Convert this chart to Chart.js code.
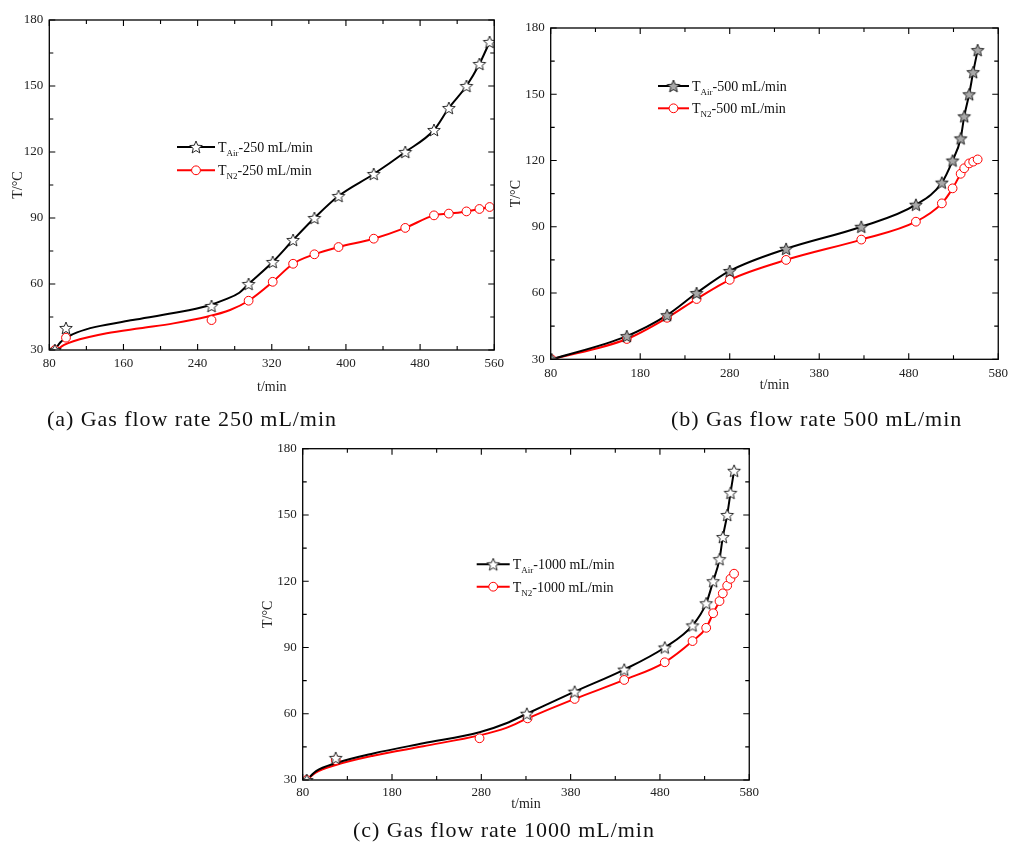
<!DOCTYPE html>
<html>
<head>
<meta charset="utf-8">
<script src="https://cdn.jsdelivr.net/npm/chart.js@4.4.0/dist/chart.umd.min.js"></script>
<style>
  body { margin: 0; background: #fff; width: 1009px; height: 844px; position: relative; overflow: hidden;
         font-family: "Liberation Serif", "Times New Roman", serif; }
  .box { position: absolute; }
  .cap { position: absolute; font-size: 22px; letter-spacing: 0.95px; color: #111; white-space: nowrap; line-height: 24px; }
</style>
</head>
<body>
<div class="box" style="left:0;top:0;width:510px;height:400px"><canvas id="chartA"></canvas></div>
<div class="box" style="left:505px;top:0;width:509px;height:400px"><canvas id="chartB"></canvas></div>
<div class="box" style="left:250px;top:430px;width:514px;height:390px"><canvas id="chartC"></canvas></div>
<div class="cap" style="left:47px;top:407px">(a) Gas flow rate 250 mL/min</div>
<div class="cap" style="left:671px;top:407px">(b) Gas flow rate 500 mL/min</div>
<div class="cap" style="left:353px;top:818px">(c) Gas flow rate 1000 mL/min</div>
<script>
// ---- shared axis ticks ----
const yTicks = [30, 60, 90, 120, 150, 180];
const xTicksA = [80, 160, 240, 320, 400, 480, 560];
const xTicksBC = [80, 180, 280, 380, 480, 580];

// ---- (a) 250 mL/min : measured points ----
const tA   = [86, 98, 255, 295, 321, 343, 366, 392, 430, 464, 495, 511, 530, 544, 555];
const airA = [30, 40, 50, 60, 70, 80, 90, 100, 110, 120, 130, 140, 150, 160, 170];
const n2A  = [30, 35.6, 43.6, 52.4, 61, 69.2, 73.5, 76.8, 80.6, 85.5, 91.2, 92, 93, 94.1, 95];
// (a) fitted curves
const fitTAirA = [86, 92, 100, 110, 130, 170, 214, 250, 270, 285, 295, 321, 343, 366, 392, 430, 464, 495, 511, 530, 544, 555];
const fitAirA  = [30, 33.5, 36, 38, 40.5, 43.6, 46.8, 50, 53, 56, 60, 70, 80, 90, 100, 110, 120, 130, 140, 150, 160, 170];
const fitTN2A  = [88, 96, 106, 142, 178, 214, 250, 275, 295, 321, 343, 366, 392, 430, 464, 495, 511, 530, 544, 555];
const fitN2A   = [30, 32.3, 34, 37.6, 39.9, 42.1, 45.1, 48.2, 52.4, 61, 69.2, 73.5, 76.8, 80.6, 85.5, 91.2, 92, 93, 94.1, 95];

// ---- (b) 500 mL/min ----
const tB   = [81, 165, 210, 243, 280, 343, 427, 488, 517, 529, 538, 542, 547.5, 552, 557];
const airB = [30, 40.5, 50, 60, 70, 80, 90, 100, 110, 120, 130, 140, 150, 160, 170];
const n2B  = [30, 39.2, 48.8, 57.3, 66, 75, 84.2, 92.3, 100.6, 107.4, 114, 116.5, 118.7, 119.5, 120.5];

// ---- (c) 1000 mL/min ----
const tAirC = [84.5, 117, 331, 384.5, 440, 485.4, 516.5, 531.8, 539.6, 546.7, 550.4, 555.3, 559, 563];
const airC  = [30, 40, 60, 70, 80, 90, 100, 110, 120, 130, 140, 150, 160, 170];
const tN2C  = [84.5, 117, 278, 331.8, 384.5, 440, 485.4, 516.5, 531.8, 539.6, 546.7, 550.4, 555.3, 559, 563];
const n2C   = [30, 39, 48.9, 57.9, 66.7, 75.3, 83.3, 92.9, 98.9, 105.5, 111, 114.5, 118, 121.1, 123.4];
// (c) fitted curves
const fitTAirC = [84.5, 95, 117, 159, 215, 278, 308, 331, 384.5, 440, 485.4, 516.5, 531.8, 539.6, 546.7, 550.4, 555.3, 559, 563];
const fitAirC  = [30, 34, 37.6, 42, 46.6, 51.6, 55.7, 60, 70, 80, 90, 100, 110, 120, 130, 140, 150, 160, 170];
const fitTN2C  = [84.5, 95, 117, 159, 215, 278, 308, 331.8, 384.5, 440, 485.4, 516.5, 531.8, 539.6, 546.7, 550.4, 555.3, 559, 563];
const fitN2C   = [30, 33.5, 36.8, 41, 45.3, 50.2, 53.6, 57.9, 66.7, 75.3, 83.3, 92.9, 98.9, 105.5, 111, 114.5, 118, 121.1, 123.4];

const FONT = 'Liberation Serif';
const pts = (xs, ys) => xs.map((x, i) => ({ x, y: ys[i] }));

// five-point star marker
function starImage(fill) {
    const c = document.createElement('canvas');
    c.width = 16; c.height = 16;
    const g = c.getContext('2d');
    g.beginPath();
    for (let i = 0; i < 10; i++) {
        const r = i % 2 ? 2.9 : 6.6;
        const a = -Math.PI / 2 + i * Math.PI / 5;
        g.lineTo(8 + r * Math.cos(a), 8.6 + r * Math.sin(a));
    }
    g.closePath();
    g.fillStyle = fill; g.fill();
    g.strokeStyle = '#111'; g.lineWidth = 0.9; g.stroke();
    return c;
}
const starWhite = starImage('#fff');
const starGrey = starImage('#a8a8a8');

// frame around the plot + inward major/minor ticks on all four sides
const frameTicks = {
    id: 'frameTicks',
    afterDraw(chart) {
        const { ctx, chartArea: a, scales: { x, y } } = chart;
        ctx.save();
        ctx.strokeStyle = '#000';
        ctx.lineWidth = 1.3;
        ctx.strokeRect(a.left, a.top, a.right - a.left, a.bottom - a.top);
        const xs = x.ticks.map(t => t.value), ys = y.ticks.map(t => t.value);
        const mids = v => v.slice(1).map((t, i) => (t + v[i]) / 2);
        ctx.lineWidth = 1.1;
        ctx.beginPath();
        [[xs, 6], [mids(xs), 4]].forEach(([vals, len]) => vals.forEach(v => {
            const px = x.getPixelForValue(v);
            ctx.moveTo(px, a.bottom); ctx.lineTo(px, a.bottom - len);
            ctx.moveTo(px, a.top); ctx.lineTo(px, a.top + len);
        }));
        [[ys, 6], [mids(ys), 4]].forEach(([vals, len]) => vals.forEach(v => {
            const py = y.getPixelForValue(v);
            ctx.moveTo(a.left, py); ctx.lineTo(a.left + len, py);
            ctx.moveTo(a.right, py); ctx.lineTo(a.right - len, py);
        }));
        ctx.stroke();
        ctx.restore();
    }
};

// legend: line + marker + "T" with subscript
const seriesKey = {
    id: 'seriesKey',
    afterDraw(chart, args, opts) {
        const { ctx } = chart;
        ctx.save();
        opts.rows.forEach((r, i) => {
            const y = opts.y + i * opts.gap;
            ctx.strokeStyle = r.color; ctx.lineWidth = 2;
            ctx.beginPath(); ctx.moveTo(opts.x, y); ctx.lineTo(opts.x + opts.len, y); ctx.stroke();
            const cx = opts.x + opts.len / 2;
            if (r.img) {
                ctx.drawImage(r.img, cx - r.img.width / 2, y - r.img.height / 2);
            } else {
                ctx.fillStyle = '#fff'; ctx.strokeStyle = '#ff0000'; ctx.lineWidth = 1;
                ctx.beginPath(); ctx.arc(cx, y, 4.4, 0, Math.PI * 2); ctx.fill(); ctx.stroke();
            }
            ctx.fillStyle = '#111';
            ctx.textBaseline = 'alphabetic';
            let tx = opts.x + opts.len + 3;
            const base = y + 5;
            ctx.font = '14px "' + FONT + '"';
            ctx.fillText('T', tx, base); tx += ctx.measureText('T').width;
            ctx.font = '9px "' + FONT + '"';
            ctx.fillText(r.sub, tx, base + 4); tx += ctx.measureText(r.sub).width;
            ctx.font = '14px "' + FONT + '"';
            ctx.fillText(r.rest, tx, base);
        });
        ctx.restore();
    }
};

function makeChart(id, xTicks, datasets, key, L) {
    return new Chart(document.getElementById(id), {
        type: 'scatter',
        data: { datasets },
        plugins: [frameTicks, seriesKey],
        options: {
            responsive: true,
            maintainAspectRatio: false,
            animation: false,
            layout: { padding: L.pad },
            plugins: { legend: { display: false }, tooltip: { enabled: false }, seriesKey: key },
            scales: {
                x: {
                    type: 'linear', min: xTicks[0], max: xTicks[xTicks.length - 1],
                    afterBuildTicks: s => { s.ticks = xTicks.map(v => ({ value: v })); },
                    afterFit: s => { s.height = L.xh; },
                    grid: { display: false, drawTicks: false },
                    border: { display: false },
                    ticks: { color: '#222', font: { family: FONT, size: 13 }, padding: L.xpad, maxRotation: 0, autoSkip: false },
                    title: { display: true, text: 't/min', color: '#222', font: { family: FONT, size: 14 }, padding: 0 }
                },
                y: {
                    type: 'linear', min: 30, max: 180,
                    afterBuildTicks: s => { s.ticks = yTicks.map(v => ({ value: v })); },
                    afterFit: s => { s.width = L.yw; },
                    grid: { display: false, drawTicks: false },
                    border: { display: false },
                    ticks: { color: '#222', font: { family: FONT, size: 13 }, padding: 6, autoSkip: false },
                    title: { display: true, text: 'T/°C', color: '#222', font: { family: FONT, size: 14 }, padding: 0 }
                }
            }
        }
    });
}

const curve = (data, color) => ({ data, showLine: true, borderColor: color, borderWidth: 2, pointRadius: 0, cubicInterpolationMode: 'monotone' });
const stars = (data, img) => ({ data, pointStyle: img, pointRadius: 6, borderColor: '#000' });
const rings = data => ({ data, pointStyle: 'circle', pointRadius: 4.4, borderWidth: 1, borderColor: '#ff0000', backgroundColor: '#fff' });

makeChart('chartA', xTicksA, [
    stars(pts(tA, airA), starWhite),
    rings(pts(tA, n2A)),
    curve(pts(fitTAirA, fitAirA), '#000'),
    curve(pts(fitTN2A, fitN2A), '#ff0000')
], { x: 177, y: 147, gap: 23.3, len: 38, rows: [
    { color: '#000', img: starWhite, sub: 'Air', rest: '-250 mL/min' },
    { color: '#ff0000', sub: 'N2', rest: '-250 mL/min' } ] },
   { pad: { top: 20, right: 11, bottom: 4.6, left: 10 }, xh: 45.4, yw: 39.3, xpad: 6 });

makeChart('chartB', xTicksBC, [
    stars(pts(tB, airB), starGrey),
    rings(pts(tB, n2B)),
    curve(pts(tB, airB), '#000'),
    curve(pts(tB, n2B), '#ff0000')
], { x: 153, y: 86, gap: 22.3, len: 31, rows: [
    { color: '#000', img: starGrey, sub: 'Air', rest: '-500 mL/min' },
    { color: '#ff0000', sub: 'N2', rest: '-500 mL/min' } ] },
   { pad: { top: 28, right: 11, bottom: 5.9, left: 3.3 }, xh: 34.8, yw: 42.4, xpad: 6 });

makeChart('chartC', xTicksBC, [
    stars(pts(tAirC, airC), starWhite),
    rings(pts(tN2C, n2C)),
    curve(pts(fitTAirC, fitAirC), '#000'),
    curve(pts(fitTN2C, fitN2C), '#ff0000')
], { x: 226.7, y: 134.3, gap: 22.4, len: 33, rows: [
    { color: '#000', img: starWhite, sub: 'Air', rest: '-1000 mL/min' },
    { color: '#ff0000', sub: 'N2', rest: '-1000 mL/min' } ] },
   { pad: { top: 18.7, right: 11.3, bottom: 7.6, left: 9.9 }, xh: 32.4, yw: 42.8, xpad: 5 });
</script>
</body>
</html>
